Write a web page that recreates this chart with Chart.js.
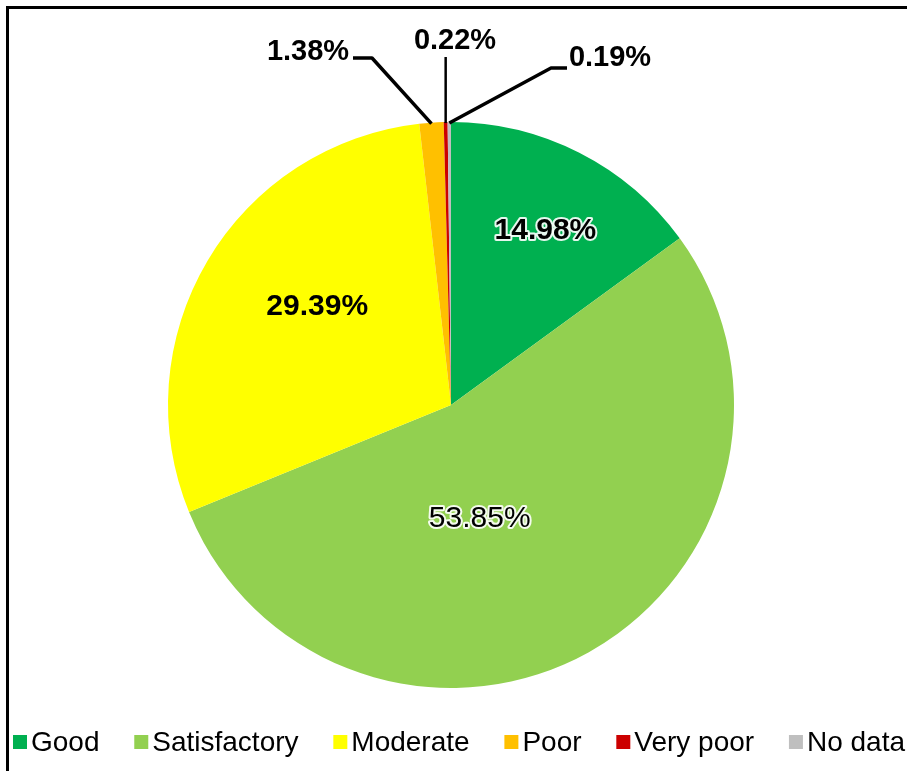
<!DOCTYPE html>
<html>
<head>
<meta charset="utf-8">
<script src="https://cdn.jsdelivr.net/npm/chart.js@4.4.1/dist/chart.umd.min.js"></script>
<style>
  html, body { margin: 0; padding: 0; background: #fff; overflow: hidden; }
  #wrap { position: relative; width: 907px; height: 771px; }
  #frame { position: absolute; left: 6px; top: 6px; right: -10px; bottom: -10px;
           border-left: 3px solid #000; border-top: 3px solid #000; pointer-events: none; }
</style>
</head>
<body>
<div id="wrap">
  <canvas id="myChart" width="907" height="771"></canvas>
  <div id="frame"></div>
</div>
<script>
var categories = ["Good", "Satisfactory", "Moderate", "Poor", "Very poor", "No data"];
var shares = [14.98, 53.85, 29.39, 1.38, 0.22, 0.19];
var sliceColors = ["#00B050", "#92D050", "#FFFF00", "#FFC000", "#CC0000", "#BFBFBF"];

var FONT = "'Liberation Sans', Arial, sans-serif";

// inside labels: radius fraction, angle shift (deg), bold, halo
var insideStyle = {
  0: {r: 0.70, shift: 1.5, bold: true, halo: true},
  1: {r: 0.415, shift: 15, bold: false, halo: true},
  2: {r: 0.587, shift: 5.7, bold: true, halo: false}
};
// outside labels: text centre, leader elbow, leader width
var outsideStyle = {
  3: {tx: 308, ty: 52, path: [[353, 58], [372, 58]], lw: 3.5},
  4: {tx: 455, ty: 41, path: [[null, 57]], lw: 2.5},
  5: {tx: 610, ty: 58, path: [[567, 68], [551, 68]], lw: 3.5}
};

function pct(v) { return v.toFixed(2) + "%"; }

var labelPlugin = {
  id: "pieLabels",
  afterDatasetsDraw: function(chart) {
    var ctx = chart.ctx;
    var arcs = chart.getDatasetMeta(0).data;
    ctx.save();
    ctx.textAlign = "center";
    ctx.textBaseline = "middle";
    arcs.forEach(function(arc, i) {
      var mid = (arc.startAngle + arc.endAngle) / 2;
      var R = arc.outerRadius;
      var txt = pct(shares[i]);
      if (insideStyle[i]) {
        var s = insideStyle[i];
        var a = mid + s.shift * Math.PI / 180;
        var x = arc.x + R * s.r * Math.cos(a);
        var y = arc.y + R * s.r * Math.sin(a);
        ctx.font = (s.bold ? "bold " : "") + "30px " + FONT;
        if (s.halo) {
          ctx.lineWidth = 4;
          ctx.strokeStyle = "rgba(255,255,255,0.9)";
          ctx.lineJoin = "round";
          ctx.strokeText(txt, x, y);
        }
        ctx.fillStyle = "#000";
        ctx.fillText(txt, x, y);
      } else if (outsideStyle[i]) {
        var o = outsideStyle[i];
        var ex = arc.x + R * Math.cos(mid);
        var ey = arc.y + R * Math.sin(mid) + 1;
        ctx.beginPath();
        ctx.strokeStyle = "#000";
        ctx.lineWidth = o.lw;
        ctx.moveTo(ex, ey);
        for (var k = o.path.length - 1; k >= 0; k--) {
          var px = o.path[k][0] === null ? ex : o.path[k][0];
          ctx.lineTo(px, o.path[k][1]);
        }
        ctx.stroke();
        ctx.font = "bold 29px " + FONT;
        ctx.fillStyle = "#000";
        ctx.fillText(txt, o.tx, o.ty);
      }
    });
    ctx.restore();
  }
};

var legendPlugin = {
  id: "bottomLegend",
  afterDraw: function(chart) {
    var ctx = chart.ctx;
    var box = 14, gapText = 4, left = 13, right = 905, cy = 742;
    ctx.save();
    ctx.font = "28px " + FONT;
    var widths = categories.map(function(c) { return box + gapText + ctx.measureText(c).width; });
    var total = widths.reduce(function(a, b) { return a + b; }, 0);
    var gap = (right - left - total) / (categories.length - 1);
    var x = left;
    ctx.textBaseline = "middle";
    ctx.textAlign = "left";
    categories.forEach(function(c, i) {
      ctx.fillStyle = sliceColors[i];
      ctx.fillRect(x, cy - box / 2, box, box);
      ctx.fillStyle = "#000";
      ctx.fillText(c, x + box + gapText, cy + 1);
      x += widths[i] + gap;
    });
    ctx.restore();
  }
};

new Chart("myChart", {
  type: "pie",
  data: {
    labels: categories,
    datasets: [{
      data: shares,
      backgroundColor: sliceColors,
      borderWidth: 0
    }]
  },
  options: {
    responsive: false,
    devicePixelRatio: 1,
    animation: false,
    layout: { padding: { left: 168, right: 173, top: 122, bottom: 83 } },
    plugins: {
      legend: { display: false },
      tooltip: { enabled: false }
    }
  },
  plugins: [labelPlugin, legendPlugin]
});
</script>
</body>
</html>
